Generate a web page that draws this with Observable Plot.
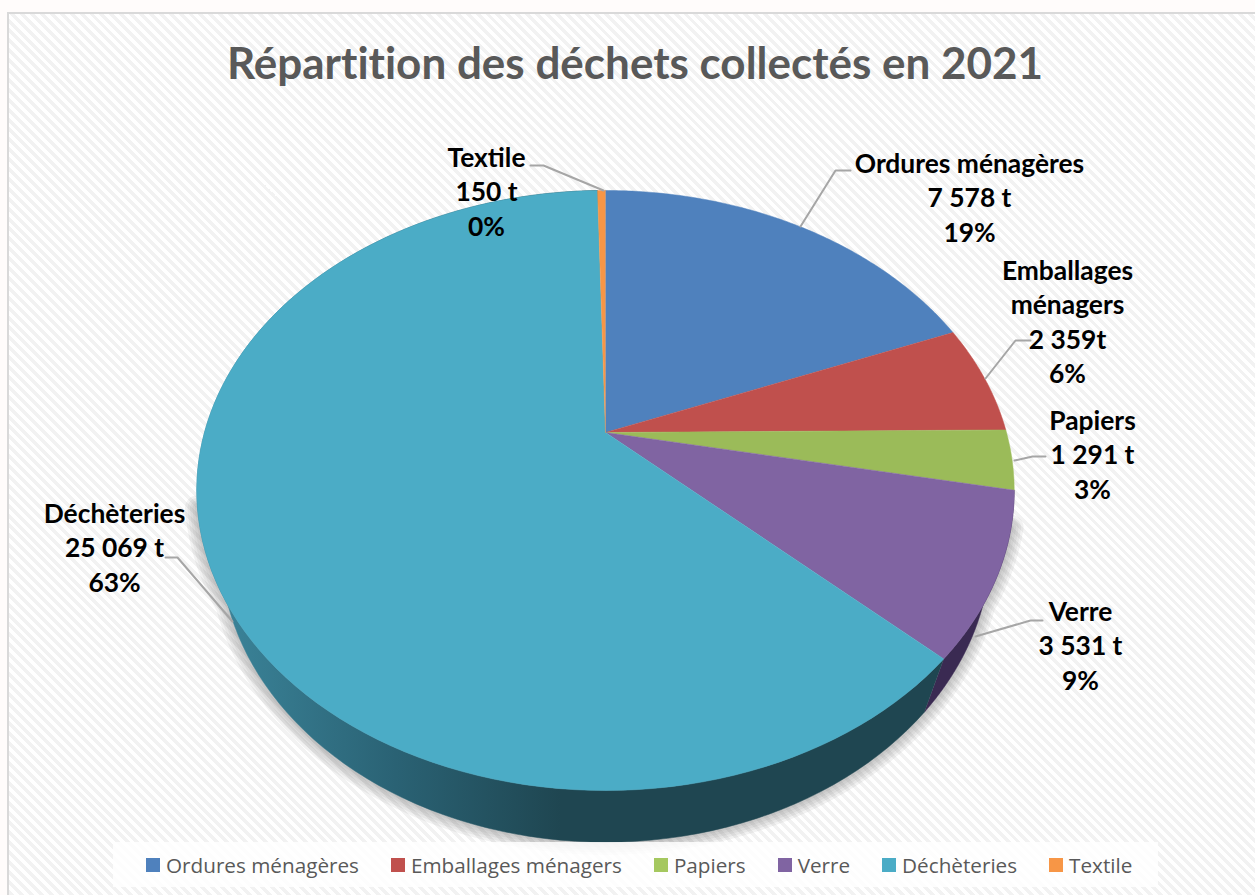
<!DOCTYPE html>
<html lang="fr">
<head>
<meta charset="utf-8">
<title>Répartition des déchets collectés en 2021</title>
<script src="https://cdn.jsdelivr.net/npm/d3@7"></script>
<script src="https://cdn.jsdelivr.net/npm/@observablehq/plot@0.6"></script>
<style>
html,body{margin:0;padding:0;background:#fffcfb;overflow:hidden}
#page{position:relative;width:1255px;height:895px;overflow:hidden}
#frame{position:absolute;left:7px;top:12px;width:1260px;height:900px;border:2px solid #d9d9d9;
  background:repeating-linear-gradient(45deg,#f2f2f2 0 3.5px,#ffffff 3.5px 7px)}
#title{position:absolute;left:0;top:29px;width:1270px;text-align:center;font:700 44px/66px Lato,sans-serif;font-variant-ligatures:none;color:#595959;margin:0}
#chart{position:absolute;left:0;top:100px}
#legend{position:absolute;left:113px;top:842px;width:1012px;height:45px;padding-left:33px;background:rgba(255,255,255,.82);
  display:flex;justify-content:flex-start;align-items:center;gap:32px;font:20.7px "Open Sans",sans-serif;color:#595959}
#legend span{display:flex;align-items:center;gap:6px}
#legend i{display:block;width:14px;height:14px}
</style>
</head>
<body>
<div id="page">
  <div id="frame"></div>
  <h1 id="title">Répartition des déchets collectés en 2021</h1>
  <div id="chart"></div>
  <div id="legend"></div>
</div>
<script>
// Data
const categories = ["Ordures ménagères","Emballages ménagers","Papiers","Verre","Déchèteries","Textile"];
const tonnes = [7578,2359,1291,3531,25069,150];
const tonnageLabels = ["7 578 t","2 359t","1 291 t","3 531 t","25 069 t","150 t"];
const percentLabels = ["19%","6%","3%","9%","63%","0%"];
const labelNames = ["Ordures ménagères","Emballages\nménagers","Papiers","Verre","Déchèteries","Textile"];

// Style
const topColors = ["#4f81bd","#c0504d","#9bbb59","#8064a2","#4bacc6","#f79646"];
const legendColors = ["#4f81bd","#c0504d","#a5c85f","#8064a2","#4bacc6","#f79646"];

// Layout (page pixels): the tilted disc, the label blocks and their leader lines
const disc = {cx:605, k:401, c:0.1933, topB:432, topA:-205.3, botB:488, botA:-191, botK:378};
const labelX = [969,1067,1092,1080,114,486];
const labelY = [196,320,453,644,546,190];
const leaderX = [[800,835,850],[985,1015,1030],[1014,1032,1045],[975,1030,1042],[232,177,165],[603,543,530]];
const leaderY = [[226,170,170],[378,340,340],[460,456,456],[636,620,620],[621,557,557],[190,165,165]];

const total = d3.sum(tonnes);
const cum = d3.cumsum(tonnes);
const project = (f, layer) => {
  const a = f*2*Math.PI, u = Math.sin(a), v = Math.cos(a), w = 1 + disc.c*v;
  return layer === "top"
    ? {x: disc.cx + disc.k*u/w, y: (disc.topB + disc.topA*v)/w}
    : {x: disc.cx + disc.botK*u/w, y: (disc.botB + disc.botA*v)/w};
};
const fractions = (f0,f1) => d3.range(0,121).map(i => f0 + (f1-f0)*i/120);
const starts = tonnes.map((d,i) => (cum[i]-d)/total);
const ends = tonnes.map((d,i) => cum[i]/total);

const topSlice = i => [{x:disc.cx,y:disc.topB}, ...fractions(starts[i],ends[i]).map(f=>project(f,"top"))];
const sideBand = (f0,f1) => {
  const fs = fractions(f0,f1);
  return [...fs.map(f=>project(f,"top")), ...fs.slice().reverse().map(f=>project(f,"bottom"))];
};
const sideSlice = i => sideBand(starts[i],ends[i]);
const shadowShape = [...sideBand(0.3,0.71), project(0.3,"top")];
const shadowWidths = [5,10,15,20,25];

const sideGradient = () => {
  const defs = d3.create("svg:defs");
  const g = defs.append("linearGradient").attr("id","sideFill").attr("gradientUnits","userSpaceOnUse")
    .attr("x1",230).attr("x2",560).attr("y1",0).attr("y2",0);
  g.append("stop").attr("offset","0").attr("stop-color","#3a8297");
  g.append("stop").attr("offset","0.5").attr("stop-color","#2a6274");
  g.append("stop").attr("offset","1").attr("stop-color","#1f4651");
  return defs.node();
};

const poly = (pts, fill) => Plot.line(pts,{x:"x",y:"y",fill,stroke:fill,strokeWidth:0.5});
const xy = (i) => leaderX[i].map((x,j)=>({x,y:leaderY[i][j],i}));

const plot = Plot.plot({
  width:1255, height:745, margin:0,
  style:{background:"transparent",overflow:"visible"},
  x:{domain:[0,1255],range:[0,1255],axis:null},
  y:{domain:[100,845],range:[0,745],axis:null},
  marks:[
    sideGradient,
    ...shadowWidths.map(w=>Plot.line(shadowShape,{x:"x",y:"y",stroke:"#6f6f6f",strokeOpacity:0.09,strokeWidth:w})),
    poly(sideSlice(3),"#3a2a52"),
    poly(sideSlice(4),"url(#sideFill)"),
    ...categories.map((_,i)=>poly(topSlice(i),topColors[i])),
    ...categories.map((_,i)=>Plot.line(xy(i),{x:"x",y:"y",stroke:"#a6a6a6",strokeWidth:2})),
    Plot.text(categories.map((_,i)=>i),{
      x:i=>labelX[i], y:i=>labelY[i],
      text:i=>`${labelNames[i]}\n${tonnageLabels[i]}\n${percentLabels[i]}`,
      fontFamily:"Lato, sans-serif", fontWeight:700, fontSize:26.4, lineHeight:1.295, fill:"#000"
    })
  ]
});
document.getElementById("chart").append(plot);

const legend = d3.select("#legend");
categories.forEach((c,i)=>{
  const s = legend.append("span");
  s.append("i").style("background",legendColors[i]);
  s.append("b").style("font-weight",400).text(c);
});
</script>
</body>
</html>
